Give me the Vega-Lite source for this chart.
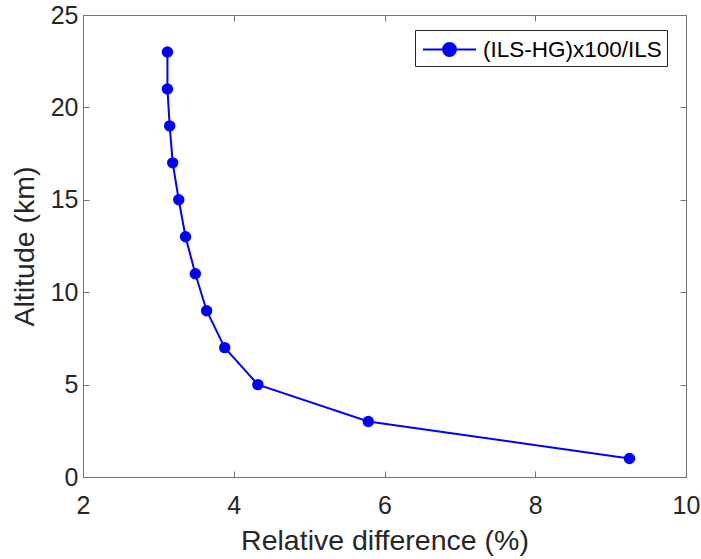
{
  "$schema": "https://vega.github.io/schema/vega-lite/v6.json",
  "width": 603,
  "height": 462,
  "autosize": {"type": "none"},
  "padding": {"left": 83, "top": 15, "right": 15, "bottom": 82},
  "background": "white",
  "config": {
    "font": "Liberation Sans",
    "view": {"stroke": "#737373", "strokeWidth": 1},
    "axis": {
      "grid": false,
      "domainColor": "#737373",
      "tickColor": "#737373",
      "labelColor": "#262626",
      "titleColor": "#262626",
      "labelFont": "Liberation Sans",
      "titleFont": "Liberation Sans",
      "labelFontSize": 25,
      "titleFontSize": 28.5,
      "titleFontWeight": "normal",
      "labelFlush": false,
      "labelOverlap": false,
      "tickSize": -6,
      "domainWidth": 1
    }
  },
  "data": {
    "values": [
      {"diff": 3.12, "alt": 23, "series": "(ILS-HG)x100/ILS"},
      {"diff": 3.12, "alt": 21, "series": "(ILS-HG)x100/ILS"},
      {"diff": 3.15, "alt": 19, "series": "(ILS-HG)x100/ILS"},
      {"diff": 3.19, "alt": 17, "series": "(ILS-HG)x100/ILS"},
      {"diff": 3.27, "alt": 15, "series": "(ILS-HG)x100/ILS"},
      {"diff": 3.36, "alt": 13, "series": "(ILS-HG)x100/ILS"},
      {"diff": 3.49, "alt": 11, "series": "(ILS-HG)x100/ILS"},
      {"diff": 3.64, "alt": 9, "series": "(ILS-HG)x100/ILS"},
      {"diff": 3.88, "alt": 7, "series": "(ILS-HG)x100/ILS"},
      {"diff": 4.32, "alt": 5, "series": "(ILS-HG)x100/ILS"},
      {"diff": 5.785, "alt": 3, "series": "(ILS-HG)x100/ILS"},
      {"diff": 9.25, "alt": 1, "series": "(ILS-HG)x100/ILS"}
    ]
  },
  "resolve": {"axis": {"x": "independent", "y": "independent"}},
  "layer": [
    {
      "mark": {"type": "line", "strokeWidth": 2, "point": {"filled": true, "size": 130, "opacity": 1}},
      "encoding": {
        "x": {
          "field": "diff", "type": "quantitative",
          "scale": {"domain": [2, 10], "nice": false, "zero": false},
          "axis": {"orient": "bottom", "values": [2, 4, 6, 8, 10], "title": "Relative difference (%)", "labelPadding": 22, "titleY": 72, "titleBaseline": "alphabetic"}
        },
        "y": {
          "field": "alt", "type": "quantitative",
          "scale": {"domain": [0, 25], "nice": false},
          "axis": {"orient": "left", "values": [0, 5, 10, 15, 20, 25], "title": "Altitude (km)", "labelPadding": 11, "titleX": -50, "titleBaseline": "alphabetic"}
        },
        "order": {"field": "alt", "type": "quantitative"},
        "color": {
          "field": "series", "type": "nominal",
          "scale": {"range": ["#0000ff"]},
          "legend": {
            "title": null,
            "orient": "none",
            "legendX": 332,
            "legendY": 15,
            "direction": "vertical",
            "padding": 5,
            "strokeColor": "#262626",
            "fillColor": "white",
            "labelFont": "Liberation Sans",
            "labelFontSize": 22.5,
            "labelColor": "#000000",
            "labelLimit": 400,
            "symbolType": "M-2,0H2M0.49,0A0.49,0.49,0,1,1,-0.49,0A0.49,0.49,0,1,1,0.49,0Z",
            "symbolSize": 702,
            "symbolFillColor": "#0000ff",
            "symbolStrokeColor": "#0000ff",
            "symbolStrokeWidth": 2,
            "symbolOffset": 15,
            "labelOffset": 19
          }
        }
      }
    },
    {
      "mark": {"type": "point", "opacity": 0},
      "encoding": {
        "x": {
          "field": "diff", "type": "quantitative",
          "axis": {"orient": "top", "values": [2, 4, 6, 8, 10], "labels": false, "title": null}
        },
        "y": {
          "field": "alt", "type": "quantitative",
          "axis": {"orient": "right", "values": [0, 5, 10, 15, 20, 25], "labels": false, "title": null}
        }
      }
    }
  ]
}
